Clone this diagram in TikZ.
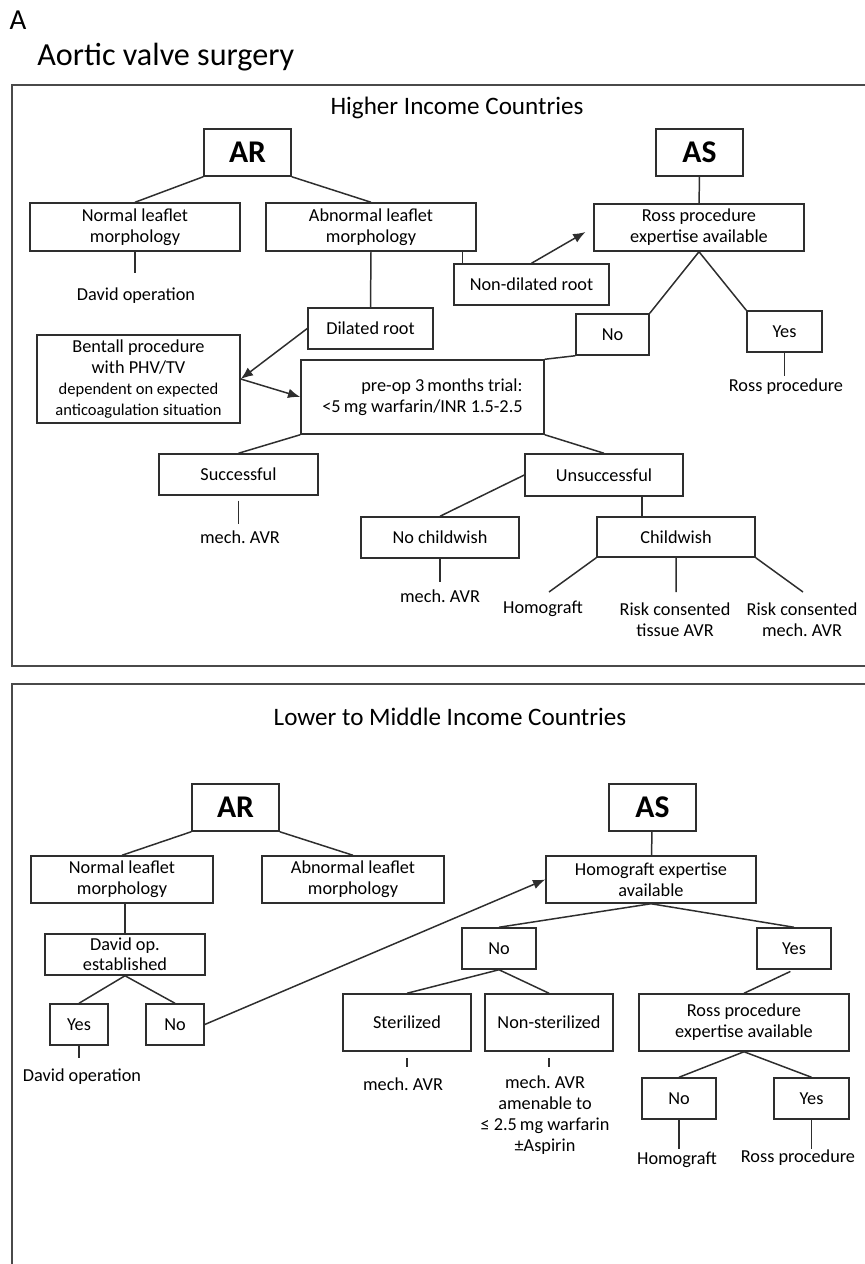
\documentclass[tikz,border=0pt]{standalone}
\usepackage{fontspec}
\setmainfont{Carlito}
\frenchspacing
\usetikzlibrary{arrows.meta,calc}
\definecolor{LineGray}{HTML}{2E2E2E}
\definecolor{FrameGray}{HTML}{4A4A4A}

\begin{document}
\begin{tikzpicture}[x=0.02cm,y=-0.02cm,
  every node/.style={font=\fontsize{10.4}{12}\selectfont},
  box/.style={draw=LineGray,line width=0.85pt,align=center,inner sep=1pt},
  head/.style={box,minimum width=1.74cm,minimum height=0.94cm,font=\fontsize{18}{20}\selectfont\bfseries},
  lbl/.style={align=center,inner sep=1pt},
  link/.style={LineGray,line width=0.85pt},
  arr/.style={link,-{Latex[length=7pt,width=5.5pt]}}]
  \useasboundingbox (0,0) rectangle (865,1264);
  \node[font=\fontsize{16.5}{18}\selectfont] (lettA) at (18,20) {A};
  \node[font=\fontsize{18.3}{22}\selectfont,anchor=west,inner sep=0pt] (ttl) at (37,57) {Aortic valve surgery};

  % --- Upper panel: higher income countries ---
  \draw[FrameGray,line width=1.1pt] (865,85) -- (12,85) -- (12,666) -- (865,666);
  \node[font=\fontsize{14.3}{17}\selectfont] (hic) at (457,108) {Higher Income Countries};
  \node[head] (arT) at (247.5,152.5) {AR};
  \node[head] (asT) at (699.5,152.5) {AS};
  \node[box,minimum width=4.2cm,minimum height=0.96cm] (normT) at (135,227) {Normal leaflet\\morphology};
  \node[box,minimum width=4.2cm,minimum height=0.96cm] (abnT) at (371,227) {Abnormal leaflet\\morphology};
  \node[box,minimum width=2.5cm,minimum height=0.82cm] (dilT) at (370.5,328.5) {Dilated root};
  \node[box,minimum width=3.1cm,minimum height=0.82cm] (ndilT) at (531.5,284.5) {Non-dilated root};
  \node[box,minimum width=4.2cm,minimum height=0.94cm] (rossT) at (699,227.5) {Ross procedure\\expertise available};
  \node[box,minimum width=1.46cm,minimum height=0.82cm] (noT) at (612.5,334.5) {No};
  \node[box,minimum width=1.5cm,minimum height=0.82cm] (yesT) at (784.5,331.5) {Yes};
  \node[box,minimum width=4.06cm,minimum height=1.76cm] (bentT) at (138.5,379)
    {Bentall procedure\\with PHV/TV\\{\fontsize{9.4}{11}\selectfont dependent on expected}\\{\fontsize{9.4}{11}\selectfont anticoagulation situation}};
  \node[box,minimum width=4.86cm,minimum height=1.48cm,align=right] (preT) at (422.5,397)
    {pre-op 3\,months trial:\\<5\,mg warfarin/INR 1.5-2.5};
  \node[box,minimum width=3.18cm,minimum height=0.82cm] (succT) at (238.5,474.5) {Successful};
  \node[box,minimum width=3.16cm,minimum height=0.84cm] (unsT) at (604,475) {Unsuccessful};
  \node[box,minimum width=3.16cm,minimum height=0.82cm] (nochT) at (440,537.5) {No childwish};
  \node[box,minimum width=3.16cm,minimum height=0.8cm] (chT) at (676,537) {Childwish};
  % outcomes
  \node[lbl] (davT) at (136,296) {David operation};
  \node[lbl] (rpT) at (786,387) {Ross procedure};
  \node[lbl] (mechST) at (240,537) {mech. AVR};
  \node[lbl] (mechNT) at (440,596) {mech. AVR};
  \node[lbl] (homT) at (543,609) {Homograft};
  \node[lbl] (tisT) at (675,620) {Risk consented\\tissue AVR};
  \node[lbl] (mechCT) at (802,620) {Risk consented\\mech. AVR};
  \coordinate (davE) at (135,273);
  \coordinate (rpE) at (784.5,376);
  \coordinate (mechSE) at (238.5,524);
  \coordinate (mechNE) at (440,582);
  \coordinate (homE) at (549,592);
  \coordinate (tisE) at (676,592);
  \coordinate (mechCE) at (803,592);
  % connectors
  \draw[link] (arT.south west) -- (normT.north) (arT.south east) -- (abnT.north);
  \draw[link] (normT.south) -- (davE);
  \draw[link] (abnT.south) -- (dilT.north);
  \draw[link] ([xshift=-0.28cm]abnT.south east) -- ([xshift=-0.28cm]abnT.south east |- ndilT.north);
  \draw[arr,shorten >=0.18cm] (ndilT.north) -- (rossT.west);
  \draw[link] (asT) -- (rossT);
  \draw[link] (rossT.south) -- (noT.north east) (rossT.south) -- (yesT.north west);
  \draw[link] (yesT.south) -- (rpE);
  \draw[arr] (dilT.west) -- (bentT.east);
  \draw[arr] (bentT.east) -- (preT.west);
  \draw[link] (noT.south west) -- (preT.north east);
  \draw[link] (preT.south west) -- (succT.north) (preT.south east) -- (unsT.north);
  \draw[link,shorten <=0.1cm] (succT.south) -- (mechSE);
  \draw[link] (unsT.west) -- (nochT.north);
  \draw[link] ([xshift=0.76cm]unsT.south) -- ([xshift=0.76cm]unsT.south |- chT.north);
  \draw[link] (nochT.south) -- (mechNE);
  \draw[link] (chT.south west) -- (homE) (chT.south) -- (tisE) (chT.south east) -- (mechCE);

  % --- Lower panel: lower to middle income countries ---
  \draw[FrameGray,line width=1.1pt] (865,684) -- (12,684) -- (12,1264);
  \node[font=\fontsize{14.3}{17}\selectfont] (lmic) at (450,717) {Lower to Middle Income Countries};
  \node[head] (arL) at (235.5,807.5) {AR};
  \node[head] (asL) at (652.5,807.5) {AS};
  \node[box,minimum width=3.64cm,minimum height=0.94cm] (normL) at (122,879.5) {Normal leaflet\\morphology};
  \node[box,minimum width=3.64cm,minimum height=0.94cm] (abnL) at (353,879.5) {Abnormal leaflet\\morphology};
  \node[box,minimum width=3.2cm,minimum height=0.82cm,inner sep=0pt,font=\fontsize{10.4}{11.4}\selectfont] (davL) at (125,954.5) {David op.\\established};
  \node[box,minimum width=1.16cm,minimum height=0.82cm] (yesL) at (79,1024.5) {Yes};
  \node[box,minimum width=1.16cm,minimum height=0.82cm] (noL) at (175,1024.5) {No};
  \node[box,minimum width=4.2cm,minimum height=0.94cm] (homL) at (651,879.5) {Homograft expertise\\available};
  \node[box,minimum width=1.48cm,minimum height=0.82cm] (hnoL) at (499,948.5) {No};
  \node[box,minimum width=1.48cm,minimum height=0.82cm] (hyesL) at (794,948.5) {Yes};
  \node[box,minimum width=2.56cm,minimum height=1.14cm] (sterL) at (407,1022.5) {Sterilized};
  \node[box,minimum width=2.56cm,minimum height=1.14cm] (nsterL) at (549,1022.5) {Non-sterilized};
  \node[box,minimum width=4.2cm,minimum height=1.14cm] (rossL) at (744,1022.5) {Ross procedure\\expertise available};
  \node[box,minimum width=1.48cm,minimum height=0.82cm] (rnoL) at (679,1098.5) {No};
  \node[box,minimum width=1.5cm,minimum height=0.82cm] (ryesL) at (811.5,1098.5) {Yes};
  % outcomes
  \node[lbl] (davOpL) at (82,1077) {David operation};
  \node[lbl] (mechSL) at (403,1084) {mech. AVR};
  \node[lbl] (mechNL) at (545,1115) {mech. AVR\\amenable to\\≤ 2.5\,mg warfarin\\±Aspirin};
  \node[lbl] (homLL) at (677,1160) {Homograft};
  \node[lbl] (rpL) at (798,1158) {Ross procedure};
  \coordinate (davOpE) at (79,1058);
  \coordinate (mechSLE) at (407,1067);
  \coordinate (mechNLE) at (549,1067);
  \coordinate (homLE) at (679,1149);
  \coordinate (rpLE) at (811.5,1149);
  % connectors
  \draw[link] (arL.south west) -- (normL.north) (arL.south east) -- (abnL.north);
  \draw[link] (normL.south -| davL.north) -- (davL.north);
  \draw[link] (davL.south) -- (yesL.north) (davL.south) -- (noL.north);
  \draw[link] (yesL.south) -- (davOpE);
  \draw[arr] (noL.east) -- (homL.west);
  \draw[link] (asL) -- (homL);
  \draw[link] (homL.south) -- (hnoL.north) (homL.south) -- (hyesL.north);
  \draw[link] (hnoL.south) -- (sterL.north) (hnoL.south) -- (nsterL.north);
  \draw[link,shorten <=0.12cm] (sterL.south) -- (mechSLE);
  \draw[link,shorten <=0.12cm] (nsterL.south) -- (mechNLE);
  \draw[link,shorten <=0.08cm] (hyesL.south) -- (rossL.north);
  \draw[link] (rossL.south) -- (rnoL.north) (rossL.south) -- (ryesL.north);
  \draw[link] (rnoL.south) -- (homLE) (ryesL.south) -- (rpLE);
\end{tikzpicture}
\end{document}
